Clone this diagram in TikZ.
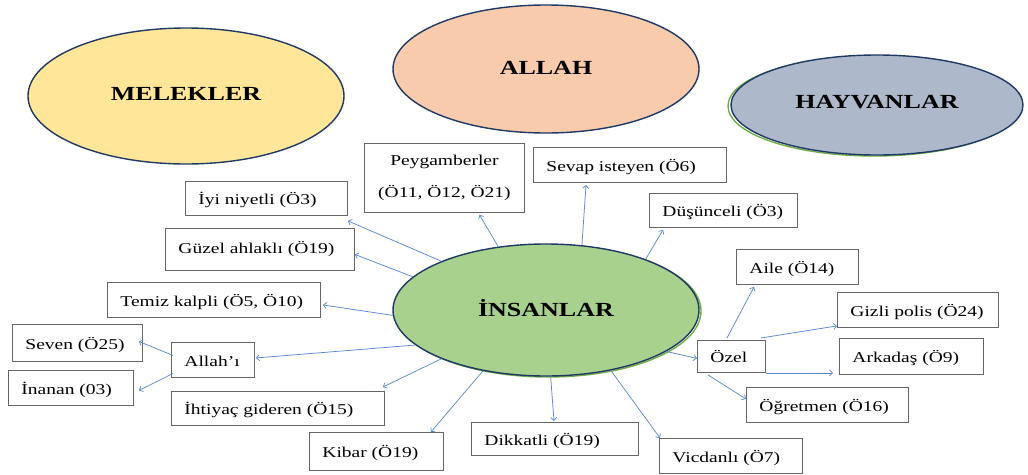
\documentclass[tikz,border=0pt]{standalone}
\usepackage{fontspec}
\setmainfont{Liberation Serif}[FakeStretch=1.3]
\usetikzlibrary{shapes.geometric,arrows.meta,calc}
\definecolor{melfill}{HTML}{FFE699}
\definecolor{alfill}{HTML}{F8CBAD}
\definecolor{hayfill}{HTML}{ADB9CA}
\definecolor{insfill}{HTML}{A9D18E}
\definecolor{elborder}{HTML}{1F3864}
\definecolor{shadowgreen}{HTML}{70AD47}
\definecolor{arrowblue}{HTML}{5B87D6}
\definecolor{boxgray}{HTML}{666666}
\newcommand{\bt}[2]{\makebox[#1][l]{#2}}
\tikzset{
  bigell/.style={ellipse, draw=elborder, line width=1.4pt, inner sep=0pt,
    font=\fontsize{20}{24}\selectfont\bfseries},
  shadowell/.style={ellipse, draw=shadowgreen, line width=1.4pt, inner sep=0pt},
  lbox/.style={rectangle, draw=boxgray, line width=0.9pt, fill=white, inner xsep=13pt,
    inner ysep=0pt, anchor=north west, font=\fontsize{15}{18}\selectfont,
    text height=17pt, text depth=4pt},
  arr/.style={draw=arrowblue, line width=0.75pt, -{Straight Barb[length=3pt,width=6pt]}}
}
\begin{document}
\begin{tikzpicture}[x=1pt,y=-1pt]
\useasboundingbox (0,0) rectangle (1028,474);
% ellipses
\node[bigell, fill=melfill, minimum width=316pt, minimum height=136pt] (mel) at (186,96) {\raisebox{4pt}{MELEKLER}};
\node[bigell, fill=alfill, minimum width=306pt, minimum height=128pt] (all) at (546,69) {\raisebox{3pt}{ALLAH}};
\node[shadowell, minimum width=292pt, minimum height=100pt] (hays) at (874,106) {};
\node[bigell, fill=hayfill, minimum width=292pt, minimum height=100pt] (hay) at (877,105) {\raisebox{6pt}{HAYVANLAR}};
\node[shadowell, minimum width=306pt, minimum height=132pt] (inss) at (548,311) {};
\node[bigell, fill=insfill, minimum width=306pt, minimum height=132pt] (ins) at (546,310) {\raisebox{4pt}{İNSANLAR}};
% boxes
\node[lbox, minimum height=69pt, align=center, inner xsep=0pt, minimum width=160pt, text height=, text depth=] (peyg) at (364,143) {Peygamberler\\[14pt](Ö11, Ö12, Ö21)};
\node[lbox, minimum height=35pt] (sev) at (533,147) {\bt{167pt}{Sevap isteyen (Ö6)}};
\node[lbox, minimum height=34pt] (dus) at (649,193) {\bt{122pt}{Düşünceli (Ö3)}};
\node[lbox, minimum height=34pt] (iyi) at (185,181) {\bt{136pt}{İyi niyetli (Ö3)}};
\node[lbox, minimum height=42pt, text height=, text depth=] (guz) at (165,228) {\bt{163pt}{Güzel ahlaklı (Ö19)}};
\node[lbox, minimum height=35pt] (tem) at (107,282) {\bt{187pt}{Temiz kalpli (Ö5, Ö10)}};
\node[lbox, minimum height=37pt] (sevn) at (12,324) {\bt{104pt}{Seven (Ö25)}};
\node[lbox, minimum height=35pt] (alh) at (171,342) {\bt{57pt}{Allah’ı}};
\node[lbox, minimum height=35pt] (ina) at (8,370) {\bt{99pt}{İnanan (03)}};
\node[lbox, minimum height=34pt] (iht) at (171,391) {\bt{187pt}{İhtiyaç gideren (Ö15)}};
\node[lbox, minimum height=38pt] (kib) at (309,432) {\bt{108pt}{Kibar (Ö19)}};
\node[lbox, minimum height=33pt] (dik) at (471,422) {\bt{141pt}{Dikkatli (Ö19)}};
\node[lbox, minimum height=35pt] (vic) at (659,438) {\bt{117pt}{Vicdanlı (Ö7)}};
\node[lbox, minimum height=35pt] (ail) at (736,249) {\bt{96pt}{Aile (Ö14)}};
\node[lbox, minimum height=35pt] (giz) at (837,292) {\bt{135pt}{Gizli polis (Ö24)}};
\node[lbox, minimum height=36pt] (ark) at (839,338) {\bt{118pt}{Arkadaş (Ö9)}};
\node[lbox, minimum height=32pt] (oz) at (697,340) {\bt{42pt}{Özel}};
\node[lbox, minimum height=35pt] (ogr) at (746,387) {\bt{136pt}{Öğretmen (Ö16)}};
% connectors from İNSANLAR
\draw[arr] (ins.127.4) -- ($(peyg.south)+(35,2)$);
\draw[arr] (ins.61) -- ($(sev.south west)+(53,2)$);
\draw[arr] (ins.27.7) -- ($(dus.south west)+(14,2)$);
\draw[arr] (ins.155.4) -- ($(iyi.south east)+(0,5)$);
\draw[arr] (ins.166.8) -- ($(guz.east)+(0,5)$);
\draw[arr] (ins.182.2) -- ($(tem.east)+(2,5)$);
\draw[arr] (ins.195) -- ($(alh.east)+(1,-2)$);
\draw[arr] (ins.205.5) -- ($(iht.north east)+(-2,-4)$);
\draw[arr] (ins.224.6) -- ($(kib.north east)+(-13,0)$);
\draw[arr] (ins.274.2) -- ($(dik.north west)+(83,-1)$);
\draw[arr] (ins.317.2) -- ($(vic.north west)+(1,0)$);
\draw[arr] (ins.341.7) -- ($(oz.west)+(0,2)$);
% from Özel
\draw[arr] ($(oz.north west)+(30,-2)$) -- ($(ail.south west)+(18,2)$);
\draw[arr] ($(oz.north east)+(-5,-2)$) -- ($(giz.south west)+(0,-2)$);
\draw[arr] (oz.south east) -- ($(ark.south west)+(-6,-2)$);
\draw[arr] ($(oz.south west)+(11,2)$) -- ($(ogr.north west)+(0,12)$);
% from Allah'ı
\draw[arr] ($(alh.west)+(2,-4.5)$) -- ($(sevn.east)+(-4,-1.5)$);
\draw[arr] ($(alh.west)+(2,13.5)$) -- ($(ina.east)+(5,2.5)$);
\end{tikzpicture}
\end{document}
